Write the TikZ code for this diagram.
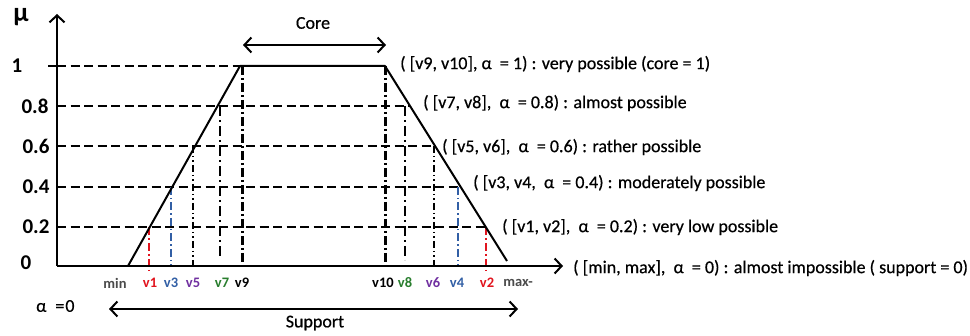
\documentclass[tikz,border=0pt]{standalone}
\usepackage{fontspec}
\setmainfont{Carlito}
\newfontfamily\labfont[FakeBold=0.5]{Carlito}
\usetikzlibrary{arrows.meta}
\definecolor{cred}{RGB}{225,20,30}
\definecolor{cblue}{RGB}{50,95,165}
\definecolor{cpurple}{RGB}{112,48,160}
\definecolor{cgreen}{RGB}{40,125,45}
\definecolor{cgray}{RGB}{75,75,75}
\tikzset{
  axisline/.style={line width=2pt, -{Straight Barb[length=7pt,width=15pt,line width=2pt]}},
  dblarrow/.style={line width=2.2pt, {Straight Barb[length=7pt,width=15pt,line width=2pt]}-{Straight Barb[length=7pt,width=15pt,line width=2pt]}},
  hgrid/.style={line width=2pt, dash pattern=on 9pt off 4.5pt},
  vcore/.style={line width=3pt, dash pattern=on 9pt off 3pt on 2pt off 3pt},
  vseven/.style={line width=2.2pt, dash pattern=on 10pt off 4pt on 2pt off 4pt},
  vfive/.style={line width=1.4pt, dash pattern=on 7pt off 3pt on 1.5pt off 3pt on 1.5pt off 3pt},
  vthree/.style={cblue, line width=1.2pt, dash pattern=on 8pt off 3pt on 1.5pt off 3pt},
  vone/.style={cred, line width=2.5pt, dash pattern=on 8pt off 3pt on 2pt off 3pt},
  trap/.style={line width=2pt, line join=round},
  rlab/.style={anchor=west, inner sep=0pt, font=\labfont\fontsize{18}{20}\selectfont},
  blab/.style={inner sep=0pt, font=\bfseries\fontsize{14.5}{16}\selectfont},
  ylab/.style={inner sep=0pt, font=\bfseries\fontsize{21}{22}\selectfont},
  tlab/.style={inner sep=0pt, font=\labfont\fontsize{18}{20}\selectfont}
}
\begin{document}
\begin{tikzpicture}[x=1pt,y=-1pt]
\useasboundingbox (0,0) rectangle (970,336);
% key coordinates
\coordinate (O) at (57,266);
\coordinate (ytip) at (57,14);
\coordinate (xtip) at (563,266);
\coordinate (tick1) at (48,66);
\coordinate (A) at (128,266);
\coordinate (B) at (240,66);
\coordinate (C) at (385,66);
\coordinate (D) at (507,261);
% levels on y axis
\coordinate (y10) at (57,66);
\coordinate (y08) at (57,106);
\coordinate (y06) at (57,146);
\coordinate (y04) at (57,187);
\coordinate (y02) at (57,227);
% edge points
\coordinate (R08) at (410,106);
\coordinate (R06) at (435,146);
\coordinate (R04) at (460.7,187);
\coordinate (R02) at (485.7,227);
% horizontal dashed grid
\draw[line width=2pt] (tick1) -- (65,66);
\draw[hgrid] (y10) -- (B);
\draw[hgrid] (y08) -- (R08);
\draw[hgrid] (y06) -- (R06);
\draw[hgrid] (y04) -- (R04);
\draw[hgrid] (y02) -- (R02);
% vertical lines
\draw[vcore] (242,66) -- (242,266);
\draw[vcore] (385,66) -- (385,266);
\draw[vseven] (220,106) -- (220,257);
\draw[vseven] (405,106) -- (405,260);
\draw[vfive] (193,146) -- (193,266);
\draw[vfive] (434,146) -- (434,266);
\draw[vthree] (171,187) -- (171,266);
\draw[vthree] (458,187) -- (458,266);
\draw[vone] (149,227) -- (149,271);
\draw[vone] (486,227) -- (486,271);
% trapezoid
\draw[trap] (A) -- (B) -- (C) -- (D);
% axes
\draw[axisline] (O) -- (ytip);
\draw[axisline] (O) -- (xtip);
% core / support arrows
\coordinate (core1) at (243,45);
\coordinate (core2) at (386,45);
\draw[dblarrow] (core1) -- (core2);
\coordinate (sup1) at (109,309);
\coordinate (sup2) at (518,309);
\draw[dblarrow] (sup1) -- (sup2);
\node[tlab] (core) at (313,23) {Core};
\node[tlab] (support) at (315,323) {Support};
\node[tlab, anchor=west] (alpha0) at (36,306) {α\hspace{9pt}=\hspace{1pt}0};
% y labels
\node[inner sep=0pt, font=\bfseries\fontsize{27}{28}\selectfont] (mu) at (21,17) {μ};
\node[ylab] (l1) at (17,66) {1};
\node[ylab] (l08) at (35,106) {0.8};
\node[ylab] (l06) at (36,146) {0.6};
\node[ylab] (l04) at (36,187) {0.4};
\node[ylab] (l02) at (36,227) {0.2};
\node[ylab] (l0) at (26,263) {0};
% bottom labels
\node[blab, text=cgray] (bmin) at (115,283) {min};
\node[blab, text=cred] (b1) at (150,283) {v1};
\node[blab, text=cblue] (b3) at (171,283) {v3};
\node[blab, text=cpurple] (b5) at (193,283) {v5};
\node[blab, text=cgreen] (b7) at (222,283) {v7};
\node[blab] (b9) at (242,283) {v9};
\node[blab] (b10) at (383,283) {v10};
\node[blab, text=cgreen] (b8) at (405,283) {v8};
\node[blab, text=cpurple] (b6) at (433,283) {v6};
\node[blab, text=cblue] (b4) at (457,283) {v4};
\node[blab, text=cred] (b2) at (487,283) {v2};
\node[blab, text=cgray] (bmax) at (518,283) {max-};
% right labels
\node[rlab] (r10) at (400,64) {( [v9, v10], α\ \ = 1) : very possible (core = 1)};
\node[rlab] (r8) at (423,103) {( [v7, v8],\ \ α\ \ = 0.8) : almost possible};
\node[rlab] (r6) at (442,147) {( [v5, v6],\ \ α\ \ = 0.6) : rather possible};
\node[rlab] (r4) at (473,183) {( [v3, v4,\ \ α\ \ = 0.4) : moderately possible};
\node[rlab] (r2) at (502,227) {( [v1, v2],\ \ α\ \ = 0.2) : very low possible};
\node[rlab] (r0) at (573,268) {( [min, max],\ \ α\ \ = 0) : almost impossible ( support = 0)};
\end{tikzpicture}
\end{document}
